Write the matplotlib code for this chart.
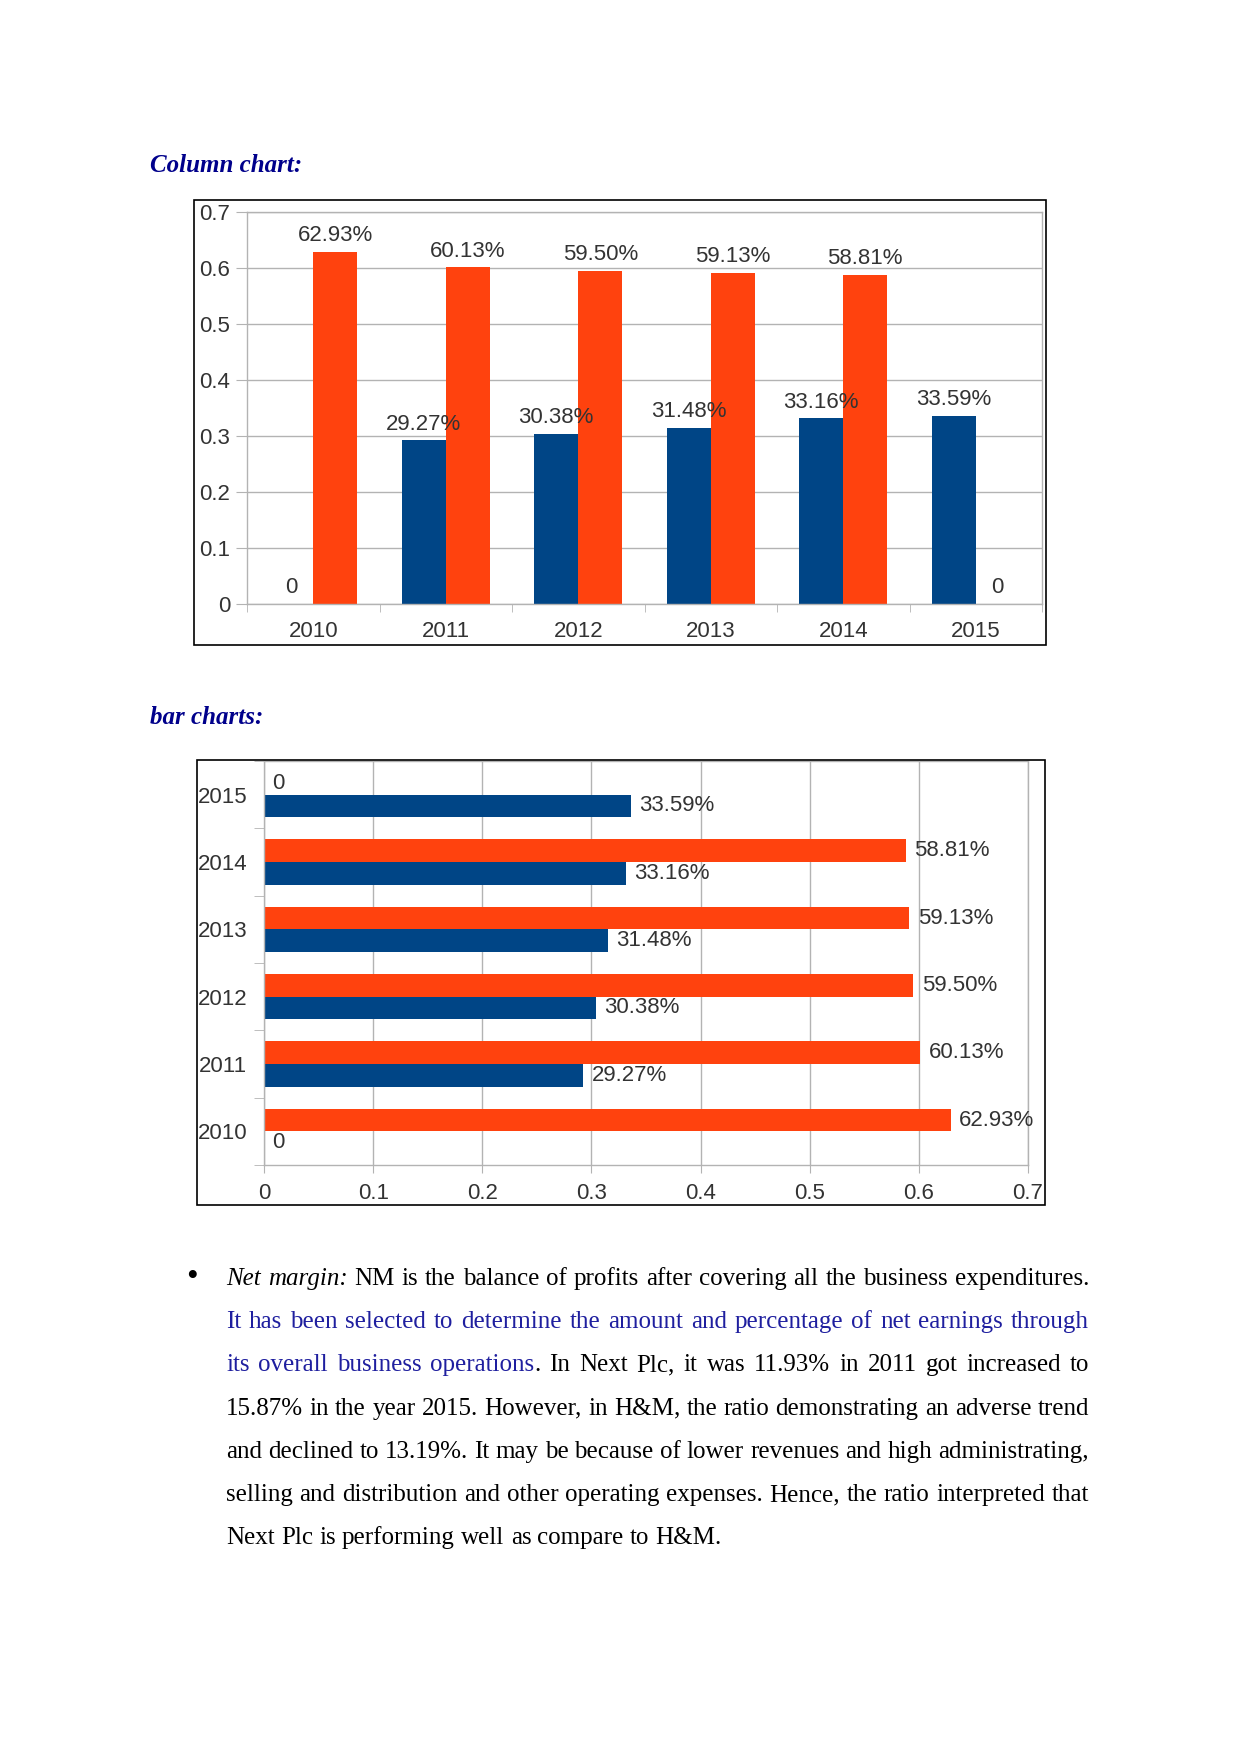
import matplotlib

matplotlib.use("Agg")
import matplotlib.pyplot as plt
import numpy as np
from matplotlib.patches import Rectangle

# page size in pixels (dpi 100)
W, H = 1241, 1754

years = ["2010", "2011", "2012", "2013", "2014", "2015"]
blue_values = [0.0, 0.2927, 0.3038, 0.3148, 0.3316, 0.3359]
orange_values = [0.6293, 0.6013, 0.5950, 0.5913, 0.5881, 0.0]
blue_labels = ["0", "29.27%", "30.38%", "31.48%", "33.16%", "33.59%"]
orange_labels = ["62.93%", "60.13%", "59.50%", "59.13%", "58.81%", "0"]
value_ticks = [0.0, 0.1, 0.2, 0.3, 0.4, 0.5, 0.6, 0.7]
value_tick_labels = ["0", "0.1", "0.2", "0.3", "0.4", "0.5", "0.6", "0.7"]

BLUE = "#004586"
ORANGE = "#ff420e"
GRID = "#b3b3b3"
TXT = "#333333"
SANS = "Liberation Sans"
SERIF = "Liberation Serif"
TITLE_BLUE = "#00008b"
LINK_BLUE = "#1f1f9f"
CHART_FS = 16

paragraph = [
    [("Net margin:", "it"), (" NM is the balance of profits after covering all the business expenditures.", "rm")],
    [("It has been selected to determine the amount and percentage of net earnings through", "blue")],
    [("its overall business operations", "blue"), (". In Next Plc, it was 11.93% in 2011 got increased to", "rm")],
    [("15.87% in the year 2015. However, in H&M, the ratio demonstrating an adverse trend", "rm")],
    [("and declined to 13.19%. It may be because of lower revenues and high administrating,", "rm")],
    [("selling and distribution and other operating expenses. Hence, the ratio interpreted that", "rm")],
    [("Next Plc is performing well as compare to H&M.", "rm")],
]
STYLES = {
    "rm": dict(family=SERIF, color="black"),
    "it": dict(family=SERIF, color="black", style="italic"),
    "blue": dict(family=SERIF, color=LINK_BLUE),
}
BODY_FS = 18


def fig_box(x0, y0, x1, y1):
    """Pixel box (top-left origin) -> figure fraction [left, bottom, width, height]."""
    return [x0 / W, 1 - y1 / H, (x1 - x0) / W, (y1 - y0) / H]


def frame(fig, x0, y0, x1, y1):
    fig.add_artist(Rectangle(fig_box(x0, y0, x1, y1)[:2], (x1 - x0) / W, (y1 - y0) / H,
                             transform=fig.transFigure, fill=False, ec="black", lw=1.2))


def style_axes(ax):
    for s in ax.spines.values():
        s.set_color(GRID)
        s.set_linewidth(1)
    ax.set_axisbelow(True)
    for lab in ax.get_xticklabels() + ax.get_yticklabels():
        lab.set_family(SANS)


fig = plt.figure(figsize=(W / 100, H / 100), dpi=100)

# ---- column chart ----
fig.text(150 / W, 1 - 165 / H, "Column chart:", fontsize=18, fontweight="bold", style="italic",
         family=SERIF, color=TITLE_BLUE, va="center")
frame(fig, 194, 200, 1046, 645)
ax1 = fig.add_axes(fig_box(247, 212, 1042, 604))
x = np.arange(len(years))
bw = 0.332
b1 = ax1.bar(x - bw / 2, blue_values, bw, color=BLUE)
b2 = ax1.bar(x + bw / 2, orange_values, bw, color=ORANGE)
ax1.bar_label(b1, labels=blue_labels, padding=4, fontsize=CHART_FS, color=TXT, family=SANS)
ax1.bar_label(b2, labels=orange_labels, padding=4, fontsize=CHART_FS, color=TXT, family=SANS)
ax1.set_xlim(-0.5, len(years) - 0.5)
ax1.set_ylim(0, 0.7)
ax1.set_yticks(value_ticks, value_tick_labels)
ax1.set_xticks(x, years)
ax1.set_xticks(np.arange(-0.5, len(years)), minor=True)
ax1.yaxis.grid(True, color=GRID, lw=1)
ax1.tick_params(axis="y", length=8, color=GRID, pad=4, labelsize=CHART_FS, labelcolor=TXT)
ax1.tick_params(axis="x", which="major", length=0, pad=12, labelsize=CHART_FS, labelcolor=TXT)
ax1.tick_params(axis="x", which="minor", length=6, color=GRID)
style_axes(ax1)

# ---- bar chart ----
fig.text(150 / W, 1 - 717 / H, "bar charts:", fontsize=18, fontweight="bold", style="italic",
         family=SERIF, color=TITLE_BLUE, va="center")
frame(fig, 197, 760, 1045, 1205)
ax2 = fig.add_axes(fig_box(264, 761, 1028, 1165))
bh = 0.335
h1 = ax2.barh(x - bh / 2, blue_values, bh, color=BLUE)
h2 = ax2.barh(x + bh / 2, orange_values, bh, color=ORANGE)
ax2.bar_label(h1, labels=blue_labels, padding=6, fontsize=CHART_FS, color=TXT, family=SANS)
ax2.bar_label(h2, labels=orange_labels, padding=6, fontsize=CHART_FS, color=TXT, family=SANS)
ax2.set_ylim(-0.5, len(years) - 0.5)
ax2.set_xlim(0, 0.7)
ax2.set_xticks(value_ticks, value_tick_labels)
ax2.set_yticks(x, years)
ax2.set_yticks(np.arange(-0.5, len(years)), minor=True)
ax2.xaxis.grid(True, color=GRID, lw=1)
ax2.tick_params(axis="x", length=6, color=GRID, pad=7, labelsize=CHART_FS, labelcolor=TXT)
ax2.tick_params(axis="y", which="major", length=0, pad=12, labelsize=CHART_FS, labelcolor=TXT)
ax2.tick_params(axis="y", which="minor", length=7, color=GRID)
style_axes(ax2)

# ---- justified paragraph ----
renderer = fig.canvas.get_renderer()


def run_width(txt, key):
    t = fig.text(0, 0, txt, fontsize=BODY_FS, **STYLES[key])
    w = t.get_window_extent(renderer).width
    t.remove()
    return w


def split_words(line):
    words = [[]]
    for text, key in line:
        parts = text.split(" ")
        for i, p in enumerate(parts):
            if i > 0:
                words.append([])
            if p:
                words[-1].append((p, key))
    return [w for w in words if w]


left, right = 226, 1089
base0, step = 1285, 43.2
space_w = run_width("a a", "rm") - run_width("aa", "rm")
fig.text(192 / W, 1 - 1278 / H, "\u2022", fontsize=24, family=SERIF, ha="center", va="center")
for i, line in enumerate(paragraph):
    words = split_words(line)
    widths = [[run_width(t, k) for t, k in w] for w in words]
    total = sum(sum(ws) for ws in widths)
    last = i == len(paragraph) - 1
    gap = space_w if last else (right - left - total) / (len(words) - 1)
    xp = left
    yb = base0 + i * step
    for w, ws in zip(words, widths):
        for (t, k), rw in zip(w, ws):
            fig.text(xp / W, 1 - yb / H, t, fontsize=BODY_FS, va="baseline", ha="left", **STYLES[k])
            xp += rw
        xp += gap

fig.savefig("out.png", dpi=100)
